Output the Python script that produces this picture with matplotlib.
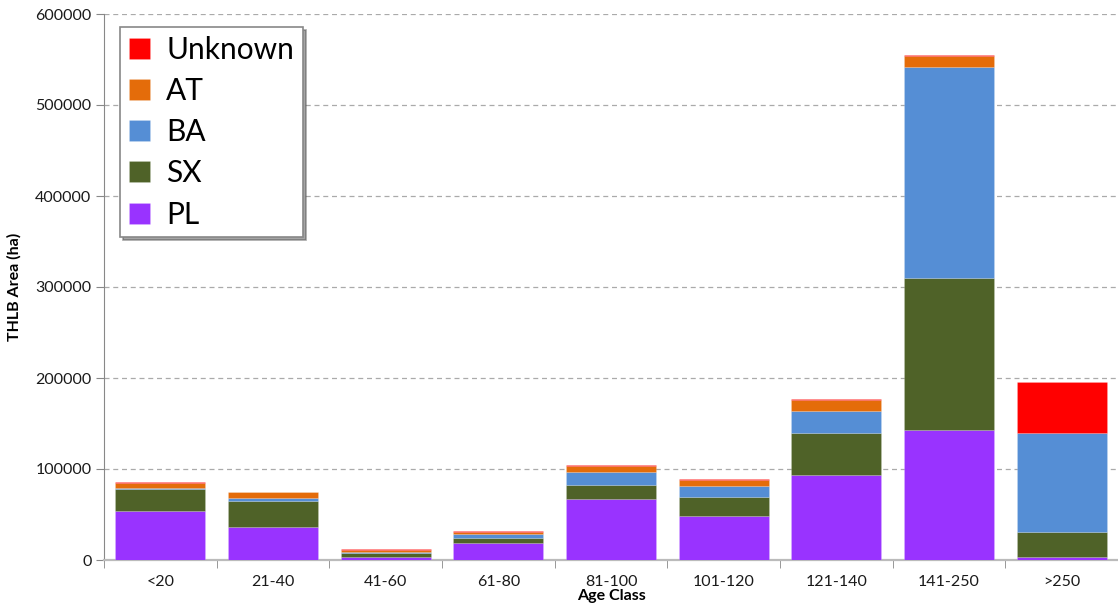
import numpy as np
import matplotlib
matplotlib.use("Agg")
import matplotlib.pyplot as plt

categories = ["<20", "21-40", "41-60", "61-80", "81-100", "101-120", "121-140", "141-250", ">250"]
PL = [54000, 36600, 3300, 18300, 67000, 48700, 93400, 143200, 3400]
SX = [24000, 28200, 4100, 5900, 15700, 20500, 46500, 166600, 27300]
BA = [1500, 3300, 1400, 4700, 14000, 11800, 23500, 232200, 109100]
AT = [5200, 6300, 2500, 1900, 6600, 7300, 12800, 12200, 0]
Unknown = [700, 700, 1100, 1100, 1100, 700, 700, 1100, 55700]

series = [("PL", PL, "#9933FF"), ("SX", SX, "#4F6228"), ("BA", BA, "#558ED5"),
          ("AT", AT, "#E46C0A"), ("Unknown", Unknown, "#FF0000")]

plt.rcParams['font.family'] = ['Lato', 'DejaVu Sans']

fig = plt.figure(figsize=(11.18, 6.11), dpi=100)
ax = fig.add_axes([104/1118, 1-560/611, 1-104/1118, (560-14)/611])

x = np.arange(len(categories))
bottom = np.zeros(len(categories))
handles = []
for name, vals, col in series:
    v = np.array(vals, dtype=float)
    b = ax.bar(x, v, 0.8, bottom=bottom, color=col, label=name,
               edgecolor=(1, 1, 1, 0.2), linewidth=0.5, zorder=3)
    handles.append(b)
    bottom += v

ax.set_xlim(-0.5, len(categories) - 0.5)
ax.set_ylim(0, 600000)
ax.set_yticks(np.arange(0, 600001, 100000))
ax.set_yticklabels([str(int(t)) for t in np.arange(0, 600001, 100000)])
ax.set_xticks(x)
ax.set_xticklabels(categories)
ax.set_xticks(np.arange(-0.5, len(categories)), minor=True)
ax.tick_params(axis='x', which='major', length=0, labelsize=11.5, colors='#1a1a1a', pad=11)
ax.tick_params(axis='x', which='minor', length=6, color='#888888', direction='out')
ax.tick_params(axis='y', length=6, color='#888888', labelsize=11.5, colors='#1a1a1a', pad=3)
ax.tick_params(axis='y', which='major', color='#888888')

ax.grid(axis='y', linestyle=(0, (4, 3)), color='#AAAAAA', linewidth=0.9, zorder=0)
ax.set_axisbelow(True)
for s in ['top', 'right']:
    ax.spines[s].set_visible(False)
ax.spines['left'].set_color('#888888')
ax.spines['bottom'].set_color('#BBBBBB')
ax.spines['bottom'].set_linewidth(1.6)

ax.set_xlabel("Age Class", fontsize=11.5, fontweight='bold', labelpad=0)
ax.set_ylabel("THLB Area (ha)", fontsize=11.5, fontweight='bold', labelpad=10)

leg = ax.legend(handles[::-1], [s[0] for s in series][::-1], loc='upper left',
                bbox_to_anchor=(16/1014, (560-27)/546), borderaxespad=0,
                fontsize=21.5, handlelength=0.7, handleheight=0.7, handletextpad=0.55,
                labelspacing=0.44, borderpad=0.3, fancybox=False, shadow=True,
                edgecolor='#888888', framealpha=1)
leg.get_frame().set_linewidth(1.2)

fig.savefig("out.png", dpi=100)
